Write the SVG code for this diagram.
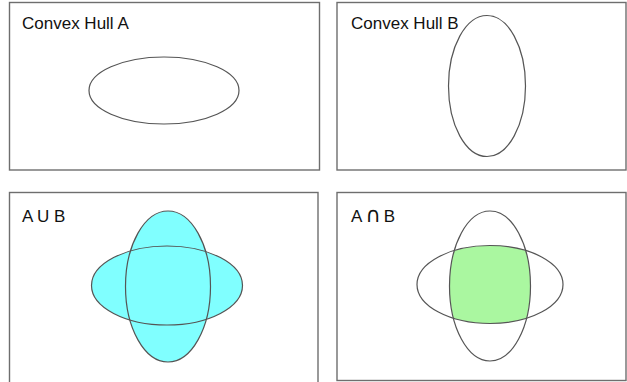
<svg xmlns="http://www.w3.org/2000/svg" width="627" height="382" viewBox="0 0 627 382">
<style>
.frame{fill:#fff;stroke:#6e6e6e;stroke-width:1.4}
.hull{fill:none;stroke:#555;stroke-width:1.2}
.lbl{font-family:"Liberation Sans",Arial,sans-serif;font-size:17px;fill:#111}
.sym{font-family:"DejaVu Sans",sans-serif;font-size:21px}
</style>
<defs>
<clipPath id="clipA"><ellipse cx="490" cy="284.5" rx="73" ry="39"/></clipPath>
</defs>
<rect width="627" height="382" fill="#fff"/>
<g id="hullA">
<rect class="frame" x="9.5" y="2.5" width="310" height="167.5"/>
<text class="lbl" x="22" y="29">Convex Hull A</text>
<ellipse class="hull" cx="164" cy="90.5" rx="75" ry="33.5"/>
</g>
<g id="hullB">
<rect class="frame" x="337" y="2.5" width="289" height="167.5"/>
<text class="lbl" x="351" y="29">Convex Hull B</text>
<ellipse class="hull" cx="487" cy="86" rx="38.5" ry="70.5"/>
</g>
<g id="union">
<rect class="frame" x="9.5" y="192.5" width="308.5" height="195"/>
<text class="lbl" x="22" y="222">A U B</text>
<ellipse cx="167" cy="285.5" rx="75.5" ry="39.5" fill="#80ffff"/>
<ellipse cx="168" cy="286.5" rx="42.5" ry="75.5" fill="#80ffff"/>
<ellipse class="hull" cx="167" cy="285.5" rx="75.5" ry="39.5"/>
<ellipse class="hull" cx="168" cy="286.5" rx="42.5" ry="75.5"/>
</g>
<g id="intersection">
<rect class="frame" x="337" y="192.5" width="289" height="188"/>
<text class="lbl" x="351" y="222">A<tspan class="sym" dx="3">∩</tspan><tspan dx="3">B</tspan></text>
<ellipse cx="490" cy="286" rx="40.5" ry="75" fill="#aaf7a0" clip-path="url(#clipA)"/>
<ellipse class="hull" cx="490" cy="284.5" rx="73" ry="39"/>
<ellipse class="hull" cx="490" cy="286" rx="40.5" ry="75"/>
</g>
<g id="connectors"/>
</svg>
